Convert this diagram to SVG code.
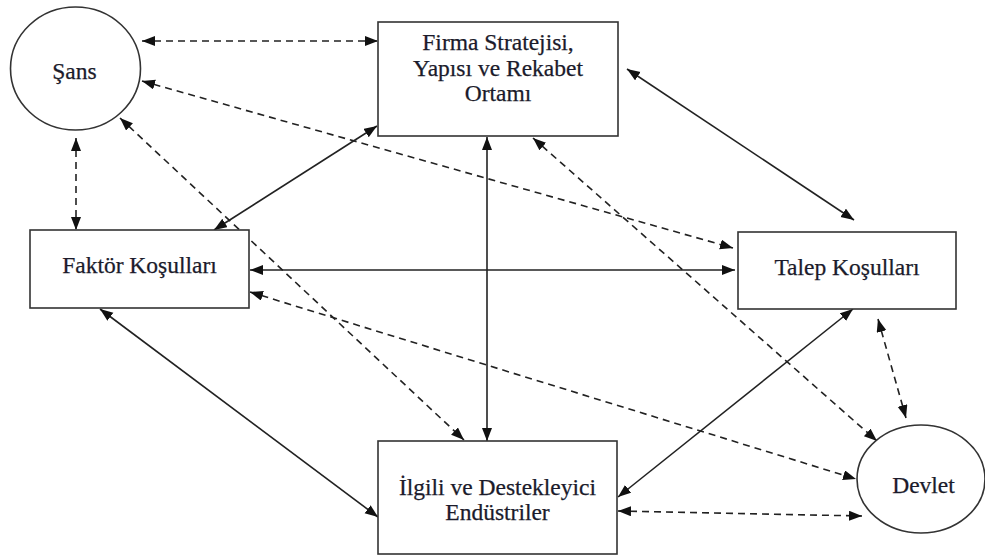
<svg xmlns="http://www.w3.org/2000/svg" width="985" height="556" viewBox="0 0 985 556">
<style>
.box{fill:#fff;stroke:#333;stroke-width:1.6}
.t{font-family:"Liberation Serif","Times New Roman",serif;font-size:23.5px;fill:#1b1b2b;stroke:#1b1b2b;stroke-width:0.25;text-anchor:middle}
.c{fill:none;stroke:#222;stroke-width:1.6;marker-start:url(#ah);marker-end:url(#ah)}
.d{stroke-dasharray:7 5}
</style>
<defs>
<marker id="ah" markerUnits="userSpaceOnUse" markerWidth="14" markerHeight="12" refX="13" refY="5" orient="auto-start-reverse">
<path d="M0,0 L13,5 L0,10 Z" fill="#111"/>
</marker>
</defs>
<rect width="985" height="556" fill="#fff"/>
<g id="connectors">
<line class="c d" x1="142" y1="41" x2="378" y2="41"/>
<line class="c d" x1="142" y1="81" x2="733" y2="248"/>
<line class="c d" x1="120" y1="118" x2="464" y2="440"/>
<line class="c d" x1="76" y1="138" x2="76" y2="230"/>
<line class="c" x1="214" y1="230" x2="377" y2="126"/>
<line class="c" x1="250" y1="270" x2="735" y2="270"/>
<line class="c d" x1="250" y1="292" x2="856" y2="479"/>
<line class="c" x1="100" y1="309" x2="378" y2="517"/>
<line class="c" x1="487" y1="137" x2="487" y2="441"/>
<line class="c d" x1="533" y1="138" x2="877" y2="441"/>
<line class="c" x1="627" y1="69" x2="854" y2="220"/>
<line class="c" x1="853" y1="309" x2="618" y2="497"/>
<line class="c d" x1="878" y1="319" x2="906" y2="418"/>
<line class="c d" x1="618" y1="511" x2="862" y2="516"/>
</g>
<g id="sans">
<ellipse class="box" cx="75.5" cy="68.5" rx="65" ry="61.5"/>
<text class="t" x="74.5" y="79">Şans</text>
</g>
<g id="firma">
<rect class="box" x="378" y="22" width="240" height="114"/>
<text class="t" x="498" y="50">Firma Stratejisi,</text>
<text class="t" x="498" y="76">Yapısı ve Rekabet</text>
<text class="t" x="498" y="101">Ortamı</text>
</g>
<g id="faktor">
<rect class="box" x="30" y="230" width="219" height="78"/>
<text class="t" x="139.5" y="273">Faktör Koşulları</text>
</g>
<g id="talep">
<rect class="box" x="738" y="232" width="218" height="77"/>
<text class="t" x="847" y="275">Talep Koşulları</text>
</g>
<g id="ilgili">
<rect class="box" x="378" y="441" width="239" height="113"/>
<text class="t" x="497.5" y="495">İlgili ve Destekleyici</text>
<text class="t" x="497.5" y="520">Endüstriler</text>
</g>
<g id="devlet">
<ellipse class="box" cx="921" cy="479" rx="64" ry="54"/>
<text class="t" x="923.5" y="493">Devlet</text>
</g>
</svg>
